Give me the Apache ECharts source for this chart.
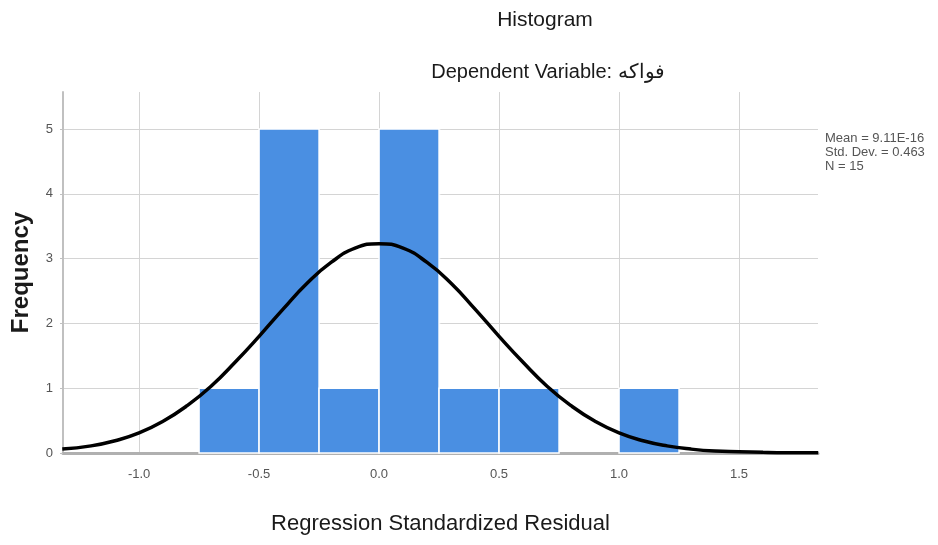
<!DOCTYPE html>
<html>
<head>
<meta charset="utf-8">
<script src="https://cdn.jsdelivr.net/npm/echarts@6/dist/echarts.min.js"></script>
<style>html,body{margin:0;padding:0;background:#fff;}#c{width:938px;height:545px;}</style>
</head>
<body>
<div id="c"></div>
<script>
// Histogram bins (left edge) and counts
const binStarts = [-0.75, -0.5, -0.25, 0.0, 0.25, 0.5, 1.0];
const binWidth = 0.25;
const counts = [1, 5, 1, 5, 1, 1, 1];
// Normal curve
const curveX = [-1.32, -1.2, -1.1, -1.0, -0.9, -0.8, -0.7, -0.6, -0.5, -0.4, -0.3, -0.2, -0.1, 0.0, 0.1, 0.2, 0.3, 0.4, 0.5, 0.6, 0.7, 0.8, 0.9, 1.0, 1.1, 1.2, 1.3, 1.4, 1.5, 1.6, 1.7, 1.83];
const curveY = [0.06, 0.11, 0.19, 0.31, 0.49, 0.73, 1.03, 1.40, 1.80, 2.22, 2.62, 2.94, 3.16, 3.23, 3.16, 2.94, 2.62, 2.22, 1.80, 1.40, 1.03, 0.73, 0.49, 0.31, 0.19, 0.11, 0.06, 0.03, 0.02, 0.01, 0.004, 0.002];
const statsLines = ['Mean = 9.11E-16', 'Std. Dev. = 0.463', 'N = 15'];
const titleText = 'Histogram';
const subtitleText = 'Dependent Variable: فواكه';
const xName = 'Regression Standardized Residual';
const yName = 'Frequency';

const chart = echarts.init(document.getElementById('c'));
const font = '"Liberation Sans", Arial, sans-serif';
const option = {
  backgroundColor: '#fff',
  animation: false,
  title: [
    {text: titleText, left: 540, top: 5, textAlign: 'center',
     textStyle: {fontFamily: font, fontSize: 21, fontWeight: 'normal', color: '#1a1a1a'}},
    {text: subtitleText, left: 543, top: 57, textAlign: 'center',
     textStyle: {fontFamily: font, fontSize: 20, fontWeight: 'normal', color: '#1a1a1a'}}
  ],
  graphic: [{
    type: 'text', left: 825, top: 131,
    style: {text: statsLines.join('\n'), font: '13px ' + font, fill: '#555', lineHeight: 14}
  }],
  grid: {left: 63, right: 120, top: 92, bottom: 92},
  xAxis: {
    type: 'value', min: -1.317, max: 1.829, minInterval: 0.5, maxInterval: 0.5,
    name: xName, nameLocation: 'middle', nameGap: 60,
    nameTextStyle: {fontFamily: font, fontSize: 22, color: '#1a1a1a'},
    axisLine: {show: true, onZero: false, lineStyle: {color: '#b0b0b0', width: 3}},
    axisTick: {show: false},
    axisLabel: {showMinLabel: false, showMaxLabel: false, margin: 15, fontFamily: font, fontSize: 13, color: '#555',
      formatter: v => v.toFixed(1)},
    splitLine: {show: true, showMinLine: false, showMaxLine: false, lineStyle: {color: '#d4d4d4', width: 1}}
  },
  yAxis: {
    type: 'value', min: 0, max: 5.57, minInterval: 1, maxInterval: 1,
    name: yName, nameLocation: 'middle', nameGap: 30, nameRotate: 90,
    nameTextStyle: {fontFamily: font, fontSize: 24, fontWeight: 'bold', color: '#1a1a1a'},
    axisLine: {show: true, onZero: false, lineStyle: {color: '#c0c0c0', width: 2}},
    axisTick: {show: true, length: 3, lineStyle: {color: '#c0c0c0'}},
    axisLabel: {showMaxLabel: false, margin: 10, fontFamily: font, fontSize: 13, color: '#555'},
    splitLine: {show: true, showMinLine: false, showMaxLine: false, lineStyle: {color: '#d4d4d4', width: 1}}
  },
  series: [
    {
      type: 'custom', z: 2,
      data: binStarts.map((s, i) => [s, counts[i]]),
      renderItem: function (params, api) {
        const x0 = api.value(0), c = api.value(1);
        const p0 = api.coord([x0, c]);
        const p1 = api.coord([x0 + binWidth, 0]);
        return {type: 'rect', shape: {x: p0[0], y: p0[1], width: p1[0] - p0[0], height: p1[1] - p0[1]},
          style: {fill: '#4a8fe2', stroke: '#ffffff', lineWidth: 1.5}};
      }
    },
    {
      type: 'line', z: 3, smooth: true, showSymbol: false, symbol: 'none',
      data: curveX.map((x, i) => [x, curveY[i]]),
      lineStyle: {color: '#000', width: 3.5}
    }
  ]
};
chart.setOption(option);
</script>
</body>
</html>
